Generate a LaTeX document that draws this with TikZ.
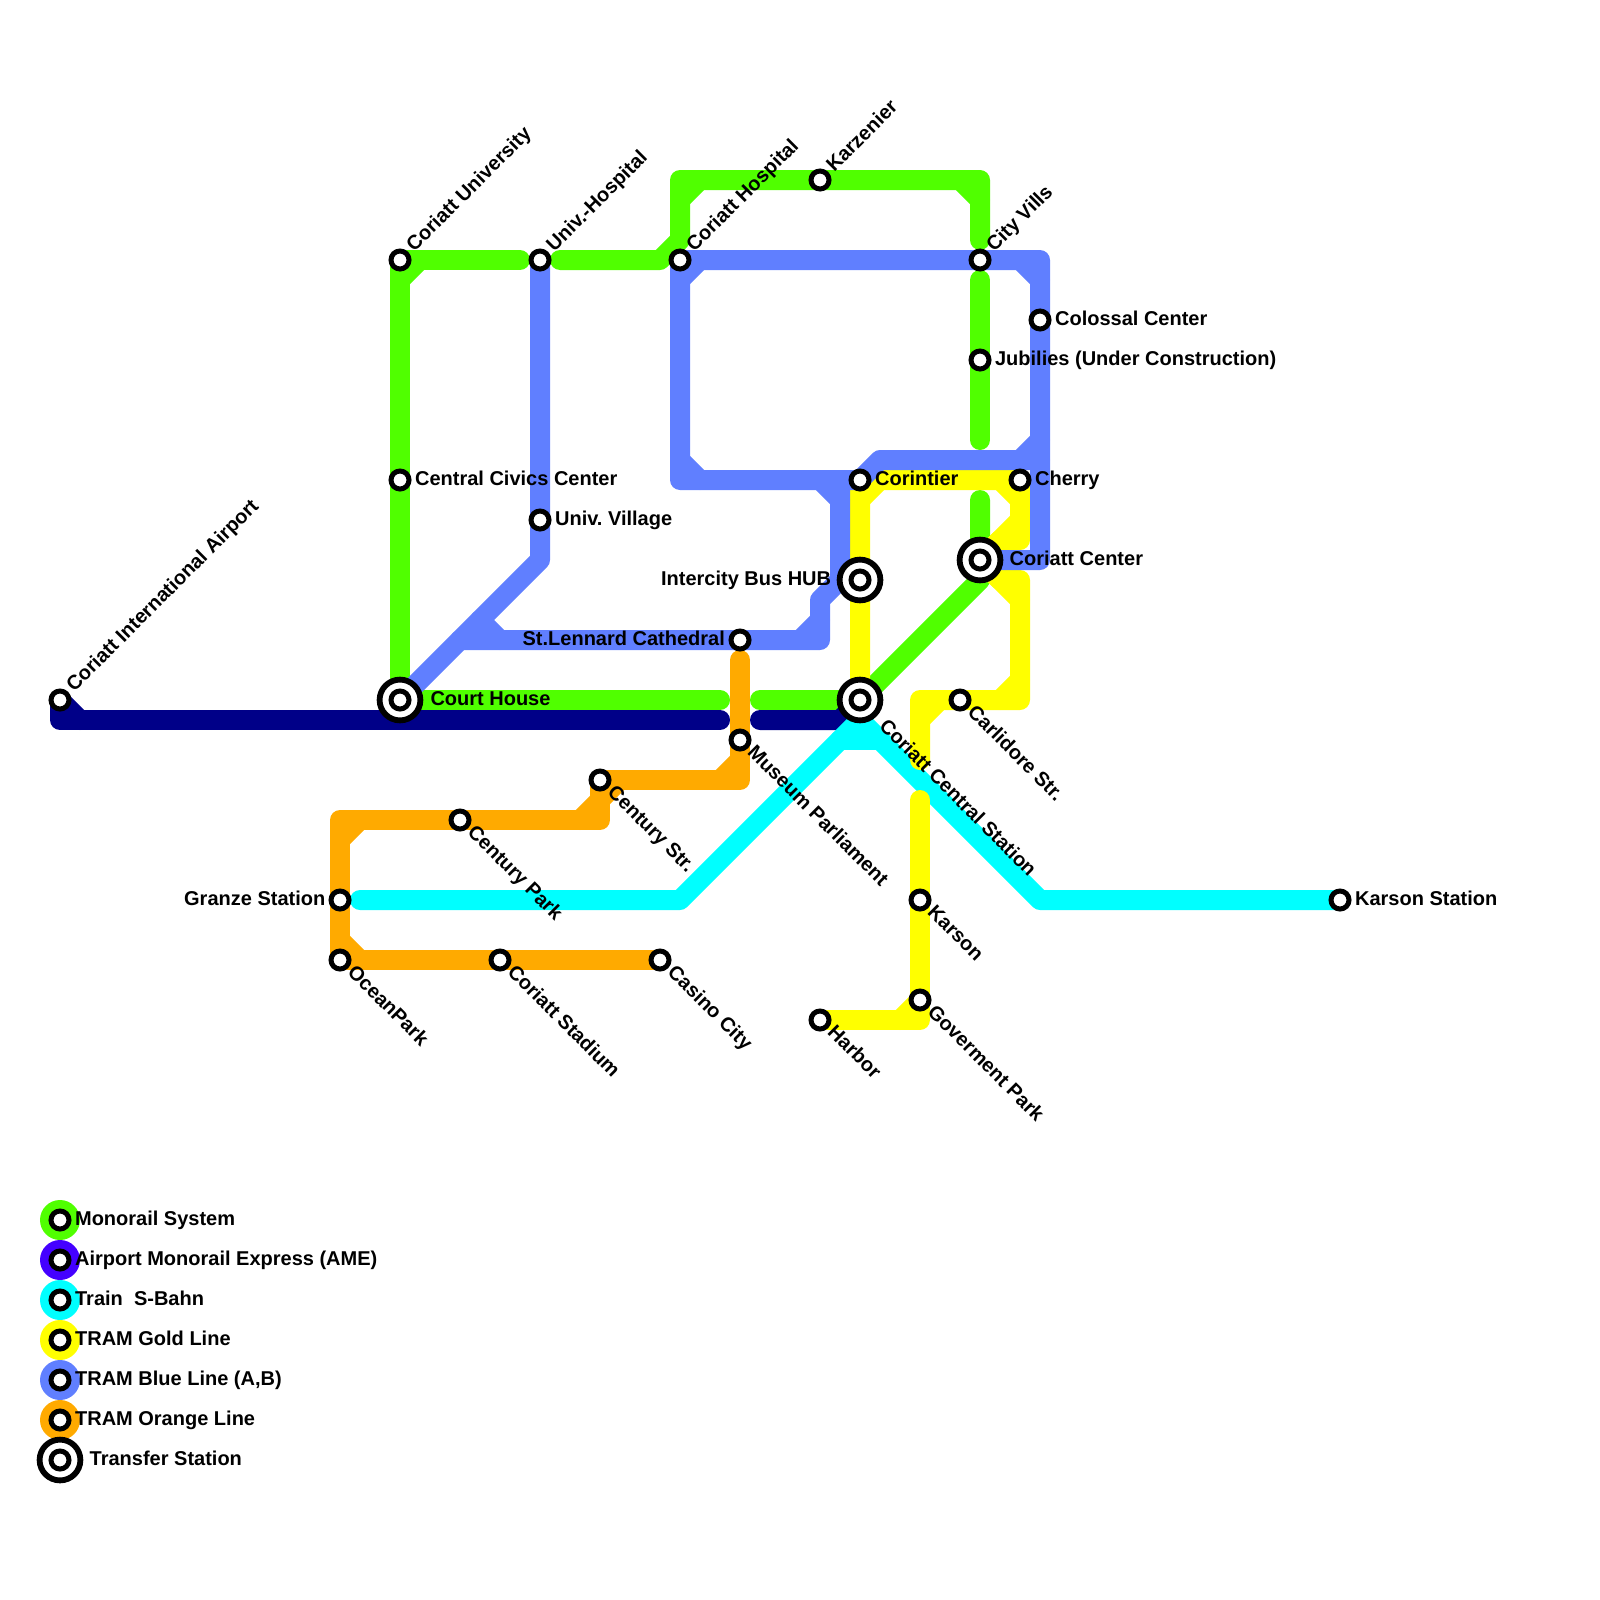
\documentclass[tikz,border=0pt]{standalone}
\usepackage{fontspec}
\setmainfont{Liberation Sans}
\usetikzlibrary{positioning, calc, backgrounds}
\definecolor{mrGreen}{HTML}{50FF00}
\definecolor{ameNavy}{HTML}{000088}
\definecolor{ameViolet}{HTML}{4400FF}
\definecolor{sbCyan}{HTML}{00FFFF}
\definecolor{tramGold}{HTML}{FFFF00}
\definecolor{tramBlue}{HTML}{607FFF}
\definecolor{tramOrange}{HTML}{FFAA00}
\tikzset{
  rail/.style={line width=10pt, line cap=round, line join=round},
  monoline/.style={rail, draw=mrGreen},
  ameline/.style={rail, draw=ameNavy},
  sbahnline/.style={rail, draw=sbCyan},
  goldline/.style={rail, draw=tramGold},
  blueline/.style={rail, draw=tramBlue},
  orangeline/.style={rail, draw=tramOrange},
  stn/.style={
    circle, draw=black, fill=white,
    line width=2.5pt, inner sep=0pt,
    minimum size=9pt
  },
  hubring/.style={
    circle, draw=black, fill=white,
    line width=2.9pt, inner sep=0pt,
    minimum size=20.4pt
  },
  disc/.style={circle, inner sep=0pt, minimum size=20pt},
  tag/.style={
    font=\bfseries\fontsize{10pt}{12pt}\selectfont, inner sep=0pt,
    text height=7.2pt, text depth=2.1pt
  },
  tagNE/.style={
    font=\bfseries\fontsize{10pt}{12pt}\selectfont, inner sep=0pt,
    anchor=base west, xshift=7pt, yshift=3.5pt, rotate=45
  },
  tagSE/.style={
    font=\bfseries\fontsize{10pt}{12pt}\selectfont, inner sep=0pt,
    anchor=base west, xshift=3.2pt, yshift=-6.5pt, rotate=-45
  },
  tagHubSE/.style={
    font=\bfseries\fontsize{10pt}{12pt}\selectfont, inner sep=0pt,
    anchor=base west, xshift=9pt, yshift=-13.5pt, rotate=-45
  }
}
\newcommand{\bevel}[4]{\draw[#1] ($(#2)+(#3,0)$) -- ($(#2)+(0,#4)$);}
\frenchspacing

\begin{document}
\begin{tikzpicture}[x=0.5pt, y=-0.5pt]
  \useasboundingbox (0,0) rectangle (1600,1600);
  % stations
  \node[stn] (air) at (60,700) {};
  \node[stn] (cu) at (400,260) {};
  \node[stn] (cv) at (400,480) {};
  \node[hubring] (chRing) at (400,700) {};
  \node[stn] (ch) at (400,700) {};
  \node[stn] (uh) at (540,260) {};
  \node[stn] (uv) at (540,520) {};
  \node[stn] (ht) at (680,260) {};
  \node[stn] (kz) at (820,180) {};
  \node[stn] (cy) at (980,260) {};
  \node[stn] (cl) at (1040,320) {};
  \node[stn] (jb) at (980,360) {};
  \node[stn] (ct) at (860,480) {};
  \node[stn] (ce) at (1020,480) {};
  \node[hubring] (ccRing) at (980,560) {};
  \node[stn] (cc) at (980,560) {};
  \node[hubring] (hbRing) at (860,580) {};
  \node[stn] (hb) at (860,580) {};
  \node[stn] (sl) at (740,640) {};
  \node[hubring] (csRing) at (860,700) {};
  \node[stn] (cs) at (860,700) {};
  \node[stn] (cr) at (960,700) {};
  \node[stn] (mp) at (740,740) {};
  \node[stn] (cz) at (600,780) {};
  \node[stn] (cp) at (460,820) {};
  \node[stn] (gz) at (340,900) {};
  \node[stn] (oc) at (340,960) {};
  \node[stn] (cd) at (500,960) {};
  \node[stn] (cn) at (660,960) {};
  \node[stn] (kr) at (920,900) {};
  \node[stn] (gp) at (920,1000) {};
  \node[stn] (hr) at (820,1020) {};
  \node[stn] (ks) at (1340,900) {};
  % names
  \node[tagNE] (airT) at (air) {Coriatt International Airport};
  \node[tagNE] (cuT) at (cu) {Coriatt University};
  \node[tagNE] (uhT) at (uh) {Univ.-Hospital};
  \node[tagNE] (htT) at (ht) {Coriatt Hospital};
  \node[tagNE] (kzT) at (kz) {Karzenier};
  \node[tagNE] (cyT) at (cy) {City Vills};
  \node[tag, right=1.6pt of cv] (cvT) {Central Civics Center};
  \node[tag, right=1.6pt of uv] (uvT) {Univ. Village};
  \node[tag, right=1.6pt of cl] (clT) {Colossal Center};
  \node[tag, right=1.6pt of jb] (jbT) {Jubilies (Under Construction)};
  \node[tag, right=1.6pt of ct] (ctT) {Corintier};
  \node[tag, right=1.6pt of ce] (ceT) {Cherry};
  \node[tag, right=1.6pt of ks] (ksT) {Karson Station};
  \node[tag, right=3.4pt of chRing] (chT) {Court House};
  \node[tag, right=3pt of ccRing] (ccT) {Coriatt Center};
  \node[tag, left=2.6pt of hbRing] (hbT) {Intercity Bus HUB};
  \node[tag, left=1.6pt of sl] (slT) {St.Lennard Cathedral};
  \node[tag, left=1.4pt of gz] (gzT) {Granze Station};
  \node[tagHubSE] (csT) at (cs) {Coriatt Central Station};
  \node[tagSE] (crT) at (cr) {Carlidore Str.};
  \node[tagSE] (mpT) at (mp) {Museum Parliament};
  \node[tagSE] (czT) at (cz) {Century Str.};
  \node[tagSE] (cpT) at (cp) {Century Park};
  \node[tagSE] (ocT) at (oc) {OceanPark};
  \node[tagSE] (cdT) at (cd) {Coriatt Stadium};
  \node[tagSE] (cnT) at (cn) {Casino City};
  \node[tagSE] (krT) at (kr) {Karson};
  \node[tagSE] (gpT) at (gp) {Goverment Park};
  \node[tagSE] (hrT) at (hr) {Harbor};
  % legend
  \node[disc, fill=mrGreen] (keyA) at (60,1220) {};
  \node[disc, fill=ameViolet] (keyB) at (60,1260) {};
  \node[disc, fill=sbCyan] (keyC) at (60,1300) {};
  \node[disc, fill=tramGold] (keyD) at (60,1340) {};
  \node[disc, fill=tramBlue] (keyE) at (60,1380) {};
  \node[disc, fill=tramOrange] (keyF) at (60,1420) {};
  \node[hubring] (keyG) at (60,1460) {};
  \node[stn] (stnA) at (keyA) {};
  \node[stn] (stnB) at (keyB) {};
  \node[stn] (stnC) at (keyC) {};
  \node[stn] (stnD) at (keyD) {};
  \node[stn] (stnE) at (keyE) {};
  \node[stn] (stnF) at (keyF) {};
  \node[stn] (stnG) at (keyG) {};
  \node[tag, right=1.6pt of stnA] (keyAT) {Monorail System};
  \node[tag, right=1.6pt of stnB] (keyBT) {Airport Monorail Express (AME)};
  \node[tag, right=1.6pt of stnC] (keyCT) {Train\ \ S-Bahn};
  \node[tag, right=1.6pt of stnD] (keyDT) {TRAM Gold Line};
  \node[tag, right=1.6pt of stnE] (keyET) {TRAM Blue Line (A,B)};
  \node[tag, right=1.6pt of stnF] (keyFT) {TRAM Orange Line};
  \node[tag, right=3pt of keyG] (keyGT) {Transfer Station};
  % bends and line ends
  \coordinate (gA) at (520,260);
  \coordinate (gB) at (560,260);
  \coordinate (gC) at (660,260);
  \coordinate (gD) at (680,240);
  \coordinate (gE) at (680,180);
  \coordinate (gF) at (980,180);
  \coordinate (gG) at (980,240);
  \coordinate (gH) at (980,280);
  \coordinate (gI) at (980,440);
  \coordinate (gJ) at (980,500);
  \coordinate (gK) at (980,580);
  \coordinate (gL) at (720,700);
  \coordinate (gM) at (760,700);
  \coordinate (nA) at (60,720);
  \coordinate (nB) at (720,720);
  \coordinate (nC) at (760,720);
  \coordinate (nD) at (840,720);
  \coordinate (sA) at (360,900);
  \coordinate (sB) at (680,900);
  \coordinate (sC) at (860,720);
  \coordinate (sD) at (1040,900);
  \coordinate (sE) at (840,740);
  \coordinate (sF) at (880,740);
  \coordinate (yA) at (1020,540);
  \coordinate (yB) at (1000,540);
  \coordinate (yC) at (1020,520);
  \coordinate (yD) at (1000,580);
  \coordinate (yE) at (1020,580);
  \coordinate (yF) at (1020,700);
  \coordinate (yG) at (920,700);
  \coordinate (yH) at (920,760);
  \coordinate (yI) at (920,800);
  \coordinate (yJ) at (920,1020);
  \coordinate (yK) at (1020,600);
  \coordinate (bA) at (540,560);
  \coordinate (bB) at (460,640);
  \coordinate (bC) at (820,640);
  \coordinate (bD) at (820,600);
  \coordinate (bE) at (840,580);
  \coordinate (bF) at (840,480);
  \coordinate (bG) at (680,480);
  \coordinate (bH) at (1040,260);
  \coordinate (bI) at (1040,560);
  \coordinate (bJ) at (880,460);
  \coordinate (bK) at (1040,460);
  \coordinate (bL) at (480,640);
  \coordinate (oA) at (740,660);
  \coordinate (oB) at (740,780);
  \coordinate (oC) at (600,820);
  \coordinate (oD) at (340,820);
  \begin{scope}[on background layer]
    % monorail
    \draw[monoline] (ch.center) -- (cv.center) -- (cu.center) -- (gA);
    \draw[monoline] (gB) -- (gC) -- (gD) -- (gE) -- (kz.center) -- (gF) -- (gG);
    \draw[monoline] (gH) -- (jb.center) -- (gI);
    \draw[monoline] (gJ) -- (cc.center) -- (gK) -- (cs.center);
    \draw[monoline] (ch.center) -- (gL);
    \draw[monoline] (gM) -- (cs.center);
    \bevel{monoline}{cu}{20}{20}
    \bevel{monoline}{gE}{20}{20}
    \bevel{monoline}{gF}{-20}{20}
    % airport express
    \draw[ameline] (air.center) -- (nA) -- (nB);
    \draw[ameline] (nC) -- (nD) -- (cs.center);
    \bevel{ameline}{nA}{20}{-20}
    % s-bahn
    \draw[sbahnline] (sA) -- (sB) -- (sC) -- (sD) -- (ks.center);
    \draw[sbahnline] (sE) -- (sF);
    \draw[sbahnline] (sC) -- (cs.center);
    % gold
    \draw[goldline] (cs.center) -- (hb.center) -- (ct.center) -- (ce.center) -- (yA) -- (yB) -- (cc.center);
    \draw[goldline] (cc.center) -- (yC);
    \draw[goldline] (cc.center) -- (yD) -- (yE) -- (yF) -- (cr.center) -- (yG) -- (yH);
    \draw[goldline] (cc.center) -- (yK);
    \draw[goldline] (yI) -- (kr.center) -- (gp.center) -- (yJ) -- (hr.center);
    \bevel{goldline}{ct}{20}{20}
    \bevel{goldline}{ce}{-20}{20}
    \bevel{goldline}{yF}{-20}{-20}
    \bevel{goldline}{yG}{20}{20}
    \bevel{goldline}{yJ}{-20}{-20}
    % blue
    \draw[blueline] (ch.center) -- (bA) -- (uv.center) -- (uh.center);
    \draw[blueline] (bB) -- (sl.center) -- (bC) -- (bD) -- (bE) -- (bF) -- (bG) -- (ht.center) -- (cy.center) -- (bH) -- (cl.center) -- (bI) -- (cc.center);
    \draw[blueline] (bE) -- (hb.center);
    \draw[blueline] (bF) -- (ct.center) -- (bJ) -- (bK);
    \bevel{blueline}{bL}{20}{-20}
    \bevel{blueline}{bC}{-20}{-20}
    \bevel{blueline}{bF}{-20}{20}
    \bevel{blueline}{bG}{20}{-20}
    \bevel{blueline}{ht}{20}{20}
    \bevel{blueline}{bH}{-20}{20}
    \bevel{blueline}{bK}{-20}{-20}
    % orange
    \draw[orangeline] (oA) -- (mp.center) -- (oB) -- (cz.center) -- (oC) -- (cp.center) -- (oD) -- (gz.center) -- (oc.center) -- (cd.center) -- (cn.center);
    \bevel{orangeline}{oB}{-20}{-20}
    \bevel{orangeline}{oC}{-20}{-20}
    \bevel{orangeline}{cz}{20}{20}
    \bevel{orangeline}{oD}{20}{20}
    \bevel{orangeline}{oc}{20}{-20}
  \end{scope}
\end{tikzpicture}
\end{document}
